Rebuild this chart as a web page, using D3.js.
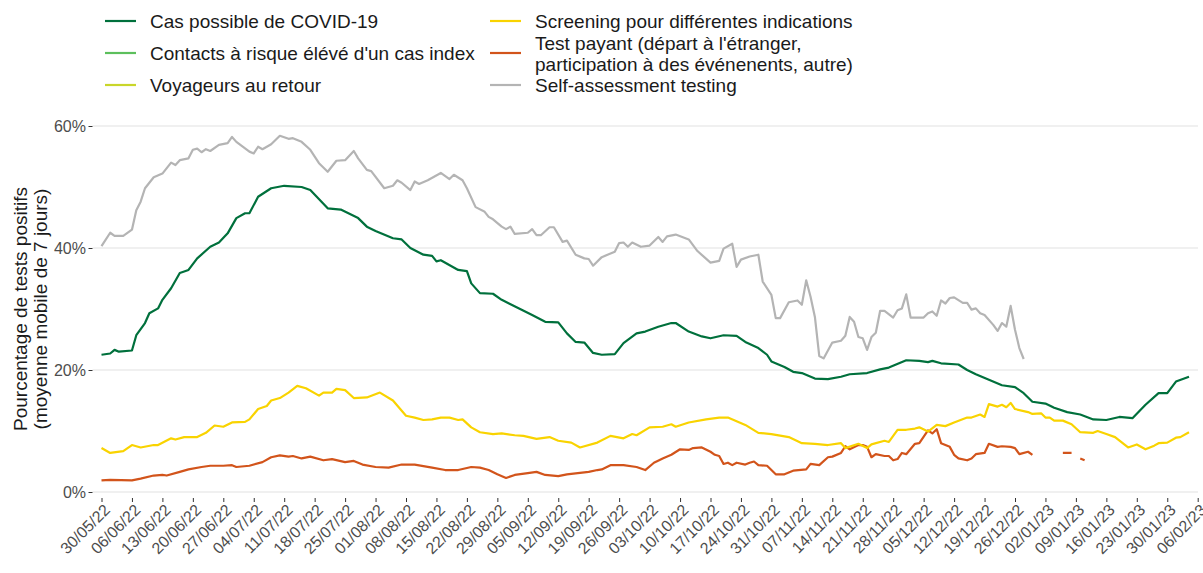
<!DOCTYPE html>
<html><head><meta charset="utf-8">
<script src="https://cdn.jsdelivr.net/npm/d3@7"></script>
<style>
body{margin:0;background:#fff}
svg{display:block}
text{font-family:"Liberation Sans",Arial,sans-serif}
</style>
</head><body>
<svg id="chart" width="1203" height="573"></svg>
<script>
// ---------- DATA ----------
const seriesNames = [
  "Cas possible de COVID-19",
  "Contacts à risque élévé d'un cas index",
  "Voyageurs au retour",
  "Screening pour différentes indications",
  "Test payant (départ à l'étranger,\nparticipation à des événenents, autre)",
  "Self-assessment testing"
];
const seriesColors = ["#00703c", "#5cbf5c", "#c9d62a", "#f9d300", "#d2541b", "#b4b4b4"];

const xTickLabels = ["30/05/22","06/06/22","13/06/22","20/06/22","27/06/22","04/07/22","11/07/22","18/07/22","25/07/22","01/08/22","08/08/22","15/08/22","22/08/22","29/08/22","05/09/22","12/09/22","19/09/22","26/09/22","03/10/22","10/10/22","17/10/22","24/10/22","31/10/22","07/11/22","14/11/22","21/11/22","28/11/22","05/12/22","12/12/22","19/12/22","26/12/22","02/01/23","09/01/23","16/01/23","23/01/23","30/01/23","06/02/23"];
const yTickValues = [0, 20, 40, 60];

const casPossible = [
["30/05/22",22.5],["01/06/22",22.7],["02/06/22",23.3],["03/06/22",23.0],["06/06/22",23.2],["07/06/22",25.7],["09/06/22",27.7],["10/06/22",29.3],["12/06/22",30.1],["13/06/22",31.5],["15/06/22",33.4],["17/06/22",35.9],["19/06/22",36.4],["21/06/22",38.3],["24/06/22",40.2],["26/06/22",40.9],["28/06/22",42.4],["30/06/22",44.9],["02/07/22",45.7],["03/07/22",45.7],["05/07/22",48.4],["08/07/22",49.8],["11/07/22",50.2],["15/07/22",50.0],["17/07/22",49.5],["21/07/22",46.5],["24/07/22",46.3],["28/07/22",44.9],["30/07/22",43.5],["01/08/22",42.8],["05/08/22",41.6],["07/08/22",41.4],["09/08/22",40.0],["12/08/22",38.9],["14/08/22",38.7],["15/08/22",37.8],["16/08/22",38.0],["20/08/22",36.4],["22/08/22",36.2],["23/08/22",34.2],["25/08/22",32.6],["28/08/22",32.5],["30/08/22",31.5],["03/09/22",30.1],["06/09/22",29.0],["09/09/22",27.9],["12/09/22",27.8],["14/09/22",26.0],["16/09/22",24.6],["18/09/22",24.5],["20/09/22",22.8],["22/09/22",22.5],["25/09/22",22.6],["27/09/22",24.4],["30/09/22",26.0],["02/10/22",26.3],["05/10/22",27.1],["08/10/22",27.7],["09/10/22",27.7],["12/10/22",26.3],["15/10/22",25.5],["17/10/22",25.2],["20/10/22",25.7],["23/10/22",25.6],["25/10/22",24.6],["28/10/22",23.6],["30/10/22",22.5],["31/10/22",21.4],["03/11/22",20.5],["05/11/22",19.7],["07/11/22",19.5],["10/11/22",18.6],["13/11/22",18.5],["16/11/22",18.9],["18/11/22",19.3],["22/11/22",19.5],["25/11/22",20.1],["27/11/22",20.4],["01/12/22",21.6],["04/12/22",21.5],["06/12/22",21.3],["07/12/22",21.5],["09/12/22",21.1],["13/12/22",20.9],["15/12/22",20.0],["17/12/22",19.3],["20/12/22",18.4],["23/12/22",17.5],["26/12/22",17.2],["28/12/22",16.2],["30/12/22",14.8],["02/01/23",14.5],["04/01/23",13.8],["07/01/23",13.1],["10/01/23",12.7],["13/01/23",11.9],["16/01/23",11.8],["19/01/23",12.3],["22/01/23",12.1],["25/01/23",14.3],["28/01/23",16.2],["30/01/23",16.2],["01/02/23",18.1],["04/02/23",18.9]
];

const contactsRisque = [];   // not visible in the plotted period
const voyageursRetour = [];  // not visible in the plotted period

const screening = [
["30/05/22",7.2],["01/06/22",6.4],["04/06/22",6.7],["06/06/22",7.7],["08/06/22",7.3],["11/06/22",7.7],["12/06/22",7.7],["15/06/22",8.8],["16/06/22",8.6],["18/06/22",9.0],["21/06/22",9.0],["23/06/22",9.7],["25/06/22",10.9],["27/06/22",10.7],["29/06/22",11.4],["02/07/22",11.5],["03/07/22",11.9],["05/07/22",13.6],["07/07/22",14.1],["08/07/22",15.0],["10/07/22",15.4],["12/07/22",16.3],["14/07/22",17.4],["16/07/22",17.0],["19/07/22",15.8],["20/07/22",16.3],["22/07/22",16.3],["23/07/22",16.9],["25/07/22",16.7],["27/07/22",15.4],["30/07/22",15.5],["02/08/22",16.3],["05/08/22",15.0],["08/08/22",12.5],["10/08/22",12.2],["12/08/22",11.8],["14/08/22",11.9],["16/08/22",12.2],["18/08/22",12.2],["20/08/22",11.8],["21/08/22",11.9],["23/08/22",10.6],["25/08/22",9.8],["28/08/22",9.5],["30/08/22",9.6],["02/09/22",9.3],["04/09/22",9.2],["07/09/22",8.7],["10/09/22",9.0],["12/09/22",8.4],["15/09/22",8.1],["17/09/22",7.3],["21/09/22",8.1],["24/09/22",9.2],["27/09/22",8.8],["29/09/22",9.5],["30/09/22",9.3],["03/10/22",10.6],["06/10/22",10.7],["08/10/22",11.1],["09/10/22",10.7],["12/10/22",11.4],["16/10/22",11.9],["19/10/22",12.2],["21/10/22",12.2],["25/10/22",11.0],["28/10/22",9.7],["31/10/22",9.5],["04/11/22",9.0],["07/11/22",8.0],["10/11/22",7.9],["13/11/22",7.7],["16/11/22",8.0],["17/11/22",7.2],["20/11/22",7.9],["22/11/22",7.2],["23/11/22",7.8],["26/11/22",8.4],["27/11/22",8.2],["29/11/22",10.2],["01/12/22",10.2],["03/12/22",10.4],["04/12/22",10.6],["06/12/22",9.9],["08/12/22",11.0],["10/12/22",10.8],["12/12/22",11.4],["15/12/22",12.2],["16/12/22",12.2],["18/12/22",12.7],["19/12/22",12.3],["20/12/22",14.4],["22/12/22",14.0],["23/12/22",14.3],["24/12/22",13.9],["25/12/22",14.6],["26/12/22",13.6],["29/12/22",13.1],["30/12/22",12.8],["01/01/23",12.9],["02/01/23",12.2],["03/01/23",12.2],["04/01/23",11.7],["06/01/23",11.7],["08/01/23",11.1],["10/01/23",9.8],["13/01/23",9.7],["14/01/23",10.0],["16/01/23",9.5],["18/01/23",9.0],["21/01/23",7.3],["23/01/23",7.8],["25/01/23",7.0],["27/01/23",7.6],["28/01/23",8.0],["30/01/23",8.1],["01/02/23",8.9],["02/02/23",9.0],["04/02/23",9.8]
];

const testPayant = [
["30/05/22",1.9],["01/06/22",2.0],["06/06/22",1.9],["08/06/22",2.2],["11/06/22",2.7],["13/06/22",2.8],["14/06/22",2.7],["17/06/22",3.3],["19/06/22",3.7],["22/06/22",4.1],["24/06/22",4.3],["27/06/22",4.3],["29/06/22",4.4],["30/06/22",4.1],["03/07/22",4.3],["06/07/22",4.9],["08/07/22",5.7],["10/07/22",6.0],["12/07/22",5.8],["13/07/22",5.9],["15/07/22",5.5],["17/07/22",5.8],["20/07/22",5.2],["22/07/22",5.4],["25/07/22",4.9],["27/07/22",5.1],["29/07/22",4.5],["01/08/22",4.1],["04/08/22",4.0],["07/08/22",4.5],["10/08/22",4.5],["14/08/22",4.0],["17/08/22",3.6],["20/08/22",3.6],["23/08/22",4.1],["25/08/22",4.0],["27/08/22",3.6],["29/08/22",2.9],["31/08/22",2.3],["02/09/22",2.8],["05/09/22",3.1],["07/09/22",3.3],["09/09/22",2.8],["12/09/22",2.6],["14/09/22",2.9],["19/09/22",3.3],["21/09/22",3.6],["22/09/22",3.7],["24/09/22",4.4],["27/09/22",4.4],["30/09/22",4.1],["02/10/22",3.6],["04/10/22",4.8],["06/10/22",5.5],["08/10/22",6.1],["10/10/22",7.0],["12/10/22",6.9],["13/10/22",7.2],["15/10/22",7.3],["17/10/22",6.6],["18/10/22",6.1],["19/10/22",5.9],["20/10/22",4.6],["21/10/22",4.8],["22/10/22",4.4],["23/10/22",4.8],["25/10/22",4.5],["26/10/22",4.8],["27/10/22",5.0],["28/10/22",4.4],["30/10/22",4.3],["01/11/22",2.9],["03/11/22",2.9],["05/11/22",3.5],["08/11/22",3.7],["09/11/22",4.6],["11/11/22",4.4],["13/11/22",5.7],["14/11/22",5.8],["16/11/22",6.4],["17/11/22",7.5],["18/11/22",7.0],["20/11/22",7.7],["21/11/22",7.7],["22/11/22",7.4],["23/11/22",5.7],["24/11/22",6.2],["26/11/22",5.9],["27/11/22",5.9],["28/11/22",5.2],["29/11/22",5.4],["30/11/22",6.4],["01/12/22",6.2],["03/12/22",7.9],["04/12/22",8.0],["06/12/22",10.1],["07/12/22",9.6],["08/12/22",10.3],["09/12/22",8.0],["11/12/22",7.4],["12/12/22",6.1],["13/12/22",5.5],["15/12/22",5.2],["16/12/22",5.5],["17/12/22",6.2],["19/12/22",6.4],["20/12/22",7.9],["22/12/22",7.4],["23/12/22",7.5],["25/12/22",7.4],["26/12/22",7.2],["27/12/22",6.2],["29/12/22",6.6],["30/12/22",6.1],["31/12/22",null],["06/01/23",6.4],["08/01/23",6.4],["09/01/23",null],["10/01/23",5.5],["11/01/23",5.2]
];

const selfAssessment = [
["30/05/22",40.3],["01/06/22",42.5],["02/06/22",42.0],["04/06/22",42.0],["06/06/22",43.0],["07/06/22",46.2],["08/06/22",47.6],["09/06/22",49.8],["11/06/22",51.6],["13/06/22",52.2],["15/06/22",54.0],["16/06/22",53.6],["17/06/22",54.4],["19/06/22",54.7],["20/06/22",56.1],["21/06/22",56.3],["22/06/22",55.7],["23/06/22",56.2],["24/06/22",55.9],["26/06/22",56.9],["28/06/22",57.2],["29/06/22",58.2],["30/06/22",57.4],["03/07/22",55.8],["04/07/22",55.5],["05/07/22",56.6],["06/07/22",56.2],["08/07/22",57.0],["10/07/22",58.4],["12/07/22",57.9],["13/07/22",58.0],["15/07/22",57.4],["17/07/22",56.1],["19/07/22",53.9],["21/07/22",52.5],["23/07/22",54.3],["25/07/22",54.4],["27/07/22",55.9],["28/07/22",54.7],["30/07/22",52.8],["31/07/22",52.6],["03/08/22",49.8],["05/08/22",50.2],["06/08/22",51.1],["07/08/22",50.7],["09/08/22",49.5],["10/08/22",50.9],["11/08/22",50.5],["13/08/22",51.1],["16/08/22",52.3],["18/08/22",51.3],["19/08/22",52.0],["21/08/22",51.1],["22/08/22",49.8],["24/08/22",46.7],["26/08/22",46.0],["27/08/22",45.1],["28/08/22",44.7],["30/08/22",43.5],["31/08/22",43.1],["01/09/22",43.5],["02/09/22",42.3],["05/09/22",42.5],["06/09/22",43.1],["07/09/22",42.1],["08/09/22",42.1],["10/09/22",43.4],["11/09/22",43.4],["13/09/22",41.0],["14/09/22",41.2],["16/09/22",38.9],["18/09/22",38.3],["19/09/22",38.2],["20/09/22",37.1],["22/09/22",38.5],["25/09/22",39.4],["26/09/22",40.8],["27/09/22",40.9],["28/09/22",40.2],["29/09/22",40.9],["01/10/22",40.2],["03/10/22",40.4],["05/10/22",41.8],["06/10/22",41.0],["07/10/22",41.9],["09/10/22",42.2],["12/10/22",41.4],["14/10/22",39.5],["17/10/22",37.6],["19/10/22",37.9],["20/10/22",39.9],["22/10/22",40.7],["23/10/22",36.9],["24/10/22",38.1],["26/10/22",38.6],["28/10/22",38.9],["29/10/22",34.5],["31/10/22",32.3],["01/11/22",28.5],["02/11/22",28.5],["04/11/22",31.1],["06/11/22",31.4],["07/11/22",30.7],["08/11/22",34.7],["09/11/22",32.0],["10/11/22",28.7],["11/11/22",22.3],["12/11/22",21.9],["14/11/22",24.5],["16/11/22",24.8],["17/11/22",25.6],["18/11/22",28.7],["19/11/22",27.9],["20/11/22",25.4],["21/11/22",25.2],["22/11/22",23.3],["23/11/22",25.4],["24/11/22",26.1],["25/11/22",29.7],["26/11/22",29.7],["28/11/22",28.6],["29/11/22",29.8],["30/11/22",30.1],["01/12/22",32.4],["02/12/22",28.6],["05/12/22",28.6],["06/12/22",29.3],["07/12/22",29.6],["08/12/22",28.9],["09/12/22",31.4],["10/12/22",30.9],["11/12/22",31.8],["12/12/22",31.9],["14/12/22",31.0],["15/12/22",31.0],["16/12/22",29.9],["17/12/22",30.1],["18/12/22",29.3],["19/12/22",29.0],["21/12/22",27.4],["22/12/22",26.4],["23/12/22",27.7],["24/12/22",27.1],["25/12/22",30.5],["26/12/22",26.6],["27/12/22",23.6],["28/12/22",21.8]
];

const yAxisTitle = ["Pourcentage de tests positifs", "(moyenne mobile de 7 jours)"];

// ---------- CHART ----------
const parse = d3.utcParse("%d/%m/%y");
const svg = d3.select("#chart");
const panel = {left: 92.5, right: 1198, bottom: 498};

const x = d3.scaleUtc()
  .domain([parse(xTickLabels[0]), parse(xTickLabels[xTickLabels.length - 1])])
  .range([101.5, 1197.7]);
const y = d3.scaleLinear().domain([0, 60]).range([492, 126]);

// grid
svg.append("g").selectAll("line").data(yTickValues).join("line")
  .attr("x1", panel.left).attr("x2", panel.right)
  .attr("y1", d => y(d)).attr("y2", d => y(d))
  .attr("stroke", "#ebebeb").attr("stroke-width", 1.3);

// y axis
const yAxis = svg.append("g").attr("transform", `translate(${panel.left},0)`)
  .call(d3.axisLeft(y).tickValues(yTickValues).tickFormat(d => d + "%").tickSize(4).tickPadding(2.5));
yAxis.select(".domain").remove();
yAxis.selectAll(".tick line").attr("stroke", "#333").attr("stroke-width", 1);
yAxis.selectAll(".tick text").attr("fill", "#4d4d4d").style("font-size", "16px")
  .style("font-family", '"Liberation Sans",Arial,sans-serif');

// x axis
const tickDates = xTickLabels.map(parse);
const fmt = d3.utcFormat("%d/%m/%y");
const xAxis = svg.append("g").attr("transform", `translate(0,${panel.bottom})`)
  .call(d3.axisBottom(x).tickValues(tickDates).tickFormat(fmt).tickSize(4).tickPadding(0));
xAxis.select(".domain").remove();
xAxis.selectAll(".tick line").attr("stroke", "#333").attr("stroke-width", 1);
xAxis.selectAll(".tick text")
  .attr("fill", "#4d4d4d").style("font-size", "16px")
  .style("font-family", '"Liberation Sans",Arial,sans-serif')
  .attr("text-anchor", "end").attr("dy", null).attr("y", 0)
  .attr("transform", "translate(9,13) rotate(-45)");

// y title
const yt = svg.append("text")
  .attr("transform", "translate(0,309) rotate(-90)")
  .attr("text-anchor", "middle").attr("fill", "#1a1a1a").style("font-size", "19px");
yt.selectAll("tspan").data(yAxisTitle).join("tspan")
  .attr("x", 0).attr("y", (d, i) => 27 + i * 19.5).text(d => d);

// lines
const series = [casPossible, contactsRisque, voyageursRetour, screening, testPayant, selfAssessment];
const line = d3.line()
  .defined(d => d[1] != null)
  .x(d => x(parse(d[0])))
  .y(d => y(d[1]));
const drawOrder = [5, 4, 3, 2, 1, 0];
svg.append("g").selectAll("path").data(drawOrder.filter(i => series[i].length)).join("path")
  .attr("d", i => line(series[i]))
  .attr("fill", "none")
  .attr("stroke", i => seriesColors[i])
  .attr("stroke-width", 2.2)
  .attr("stroke-linejoin", "round");

// legend
const legendItems = [
  {i: 0, kx: 105, ky: 21, ty: [21]},
  {i: 1, kx: 105, ky: 53, ty: [53]},
  {i: 2, kx: 105, ky: 85, ty: [85]},
  {i: 3, kx: 490, ky: 21, ty: [21]},
  {i: 4, kx: 490, ky: 53, ty: [43, 64]},
  {i: 5, kx: 490, ky: 85, ty: [85]}
];
const lg = svg.append("g");
legendItems.forEach(it => {
  lg.append("line").attr("x1", it.kx).attr("x2", it.kx + 31)
    .attr("y1", it.ky).attr("y2", it.ky)
    .attr("stroke", seriesColors[it.i]).attr("stroke-width", 2.2);
  seriesNames[it.i].split("\n").forEach((p, j) => {
    lg.append("text").attr("x", it.kx + 45).attr("y", it.ty[j])
      .attr("dy", "0.35em").attr("fill", "#1a1a1a").style("font-size", "19px").text(p);
  });
});
</script>
</body></html>
